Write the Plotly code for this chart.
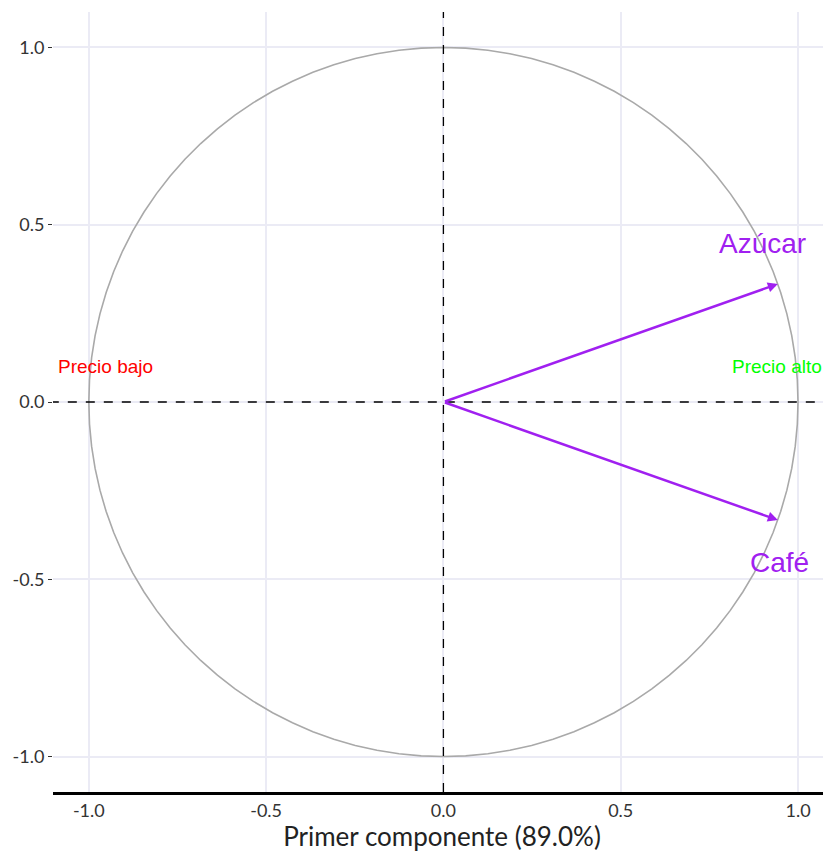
import numpy as np
import plotly.graph_objects as go

variables = ["Azúcar", "Café"]
pc1 = [0.943, 0.943]
pc2 = [0.333, -0.333]
label_x = [0.899, 0.949]
label_y = [0.448, -0.454]

region_labels = ["Precio bajo", "Precio alto"]
region_x = [-0.952, 0.940]
region_y = [0.099, 0.099]
region_colors = ["#FF0000", "#00FF00"]

tick_vals = [-1.0, -0.5, 0.0, 0.5, 1.0]
tick_text = ["-1.0", "-0.5", "0.0", "0.5", "1.0"]

purple = "#A020F0"
tick_font = dict(family="Lato", size=18, color="#333333")

theta = np.linspace(0, 2 * np.pi, 101)

fig = go.Figure()
fig.add_trace(go.Scatter(x=np.cos(theta), y=np.sin(theta), mode="lines",
                         line=dict(color="#A9A9A9", width=1.6), hoverinfo="skip", showlegend=False))
fig.add_trace(go.Scatter(x=[-1.11, 1.1], y=[0, 0], mode="lines",
                         line=dict(color="black", width=1.3, dash="dash"), showlegend=False))
fig.add_trace(go.Scatter(x=[0, 0], y=[-1.1, 1.1], mode="lines",
                         line=dict(color="black", width=1.3, dash="dash"), showlegend=False))

for v, px_, py_, lx, ly in zip(variables, pc1, pc2, label_x, label_y):
    fig.add_annotation(x=px_, y=py_, ax=0, ay=0, xref="x", yref="y", axref="x", ayref="y",
                       showarrow=True, arrowhead=2, arrowsize=0.8, arrowwidth=2.5,
                       arrowcolor=purple, text="")
    fig.add_annotation(x=lx, y=ly, text=v, showarrow=False,
                       font=dict(family="Liberation Sans", size=28, color=purple))

for t, x, y, c in zip(region_labels, region_x, region_y, region_colors):
    fig.add_annotation(x=x, y=y, text=t, showarrow=False,
                       font=dict(family="Liberation Sans", size=19, color=c))

fig.update_layout(
    width=823, height=844,
    margin=dict(l=45, r=0, t=4, b=60),
    plot_bgcolor="white", paper_bgcolor="white",
    showlegend=False,
)
fig.update_xaxes(range=[-1.101, 1.093], tickvals=tick_vals, ticktext=tick_text, tickfont=tick_font,
                 showgrid=True, gridcolor="#EBEBF5", gridwidth=1.5, zeroline=False,
                 showline=True, linecolor="black", linewidth=3, ticks="",
                 title=dict(text="Primer componente (89.0%)", font=dict(family="Lato", size=26, color="#222222"), standoff=8))
fig.update_yaxes(range=[-1.1, 1.1], tickvals=tick_vals, ticktext=tick_text, tickfont=tick_font,
                 showgrid=True, gridcolor="#EBEBF5", gridwidth=1.5, zeroline=False,
                 showline=False, ticks="outside", ticklen=4, tickcolor="#333333", tickwidth=1.2)

fig.write_html("out.html")
